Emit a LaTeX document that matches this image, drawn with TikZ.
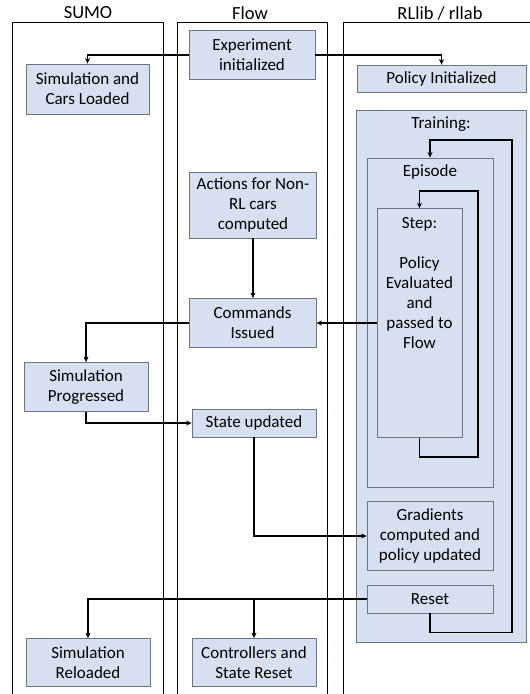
\documentclass[tikz,border=0pt]{standalone}
\usepackage{fontspec}
\setmainfont{Carlito}
\usetikzlibrary{arrows.meta}
\definecolor{boxfill}{RGB}{214,224,240}
\definecolor{boxline}{RGB}{110,116,128}
\tikzset{
  every node/.style={font=\fontsize{17}{20}\selectfont},
  box/.style={draw=boxline,fill=boxfill,line width=0.8pt,align=center,inner sep=2pt},
  lane/.style={line width=0.9pt},
  flow/.style={->,line width=1.5pt},
  txt/.style={align=center,inner sep=0pt},
  head/.style={font=\fontsize{18.5}{22}\selectfont}
}

\begin{document}
\begin{tikzpicture}[x=1pt,y=-1pt,>={Stealth[length=5.5pt,width=5pt]}]
\useasboundingbox (0,0) rectangle (530,694);
\node[head] (T0) at (88,13) {SUMO};
\node[head] (T1) at (250,13) {Flow};
\node[head] (T2) at (440,13) {RLlib / rllab};
\draw[lane] (12,694) -- (12,22) -- (163,22) -- (163,694);
\draw[lane] (177,694) -- (177,22) -- (327,22) -- (327,694);
\draw[lane] (343,694) -- (343,22) -- (530,22);
\node[box,minimum width=170,minimum height=532] (N3) at (441,376) {};
\node[box,minimum width=126,minimum height=329] (N4) at (430,322.5) {};
\node[box,minimum width=85,minimum height=229] (N5) at (419.5,323) {};
\node (N3t) at (441,124) {Training:};
\node (N4t) at (430,172) {Episode};
\node[txt] (N5t) at (419.5,283) {Step:\\[20pt]Policy\\Evaluated\\and\\passed to\\Flow};
\node[box,minimum width=126,minimum height=49] (N0) at (252,55) {Experiment\\initialized};
\node[box,minimum width=123,minimum height=50] (N1) at (87.5,89) {Simulation and\\Cars Loaded};
\node[box,minimum width=169,minimum height=27] (N2) at (441.5,78.5) {Policy Initialized};
\node[box,minimum width=127,minimum height=66] (N6) at (253,205) {Actions for Non-\\RL cars\\computed};
\node[box,minimum width=127,minimum height=49] (N7) at (252.5,323) {Commands\\Issued};
\node[box,minimum width=124,minimum height=49] (N8) at (86,387) {Simulation\\Progressed};
\node[box,minimum width=124,minimum height=28] (N9) at (254,423) {State updated};
\node[box,minimum width=126,minimum height=69] (N10) at (430,536) {Gradients\\computed and\\policy updated};
\node[box,minimum width=126,minimum height=28] (N11) at (430,599) {Reset};
\node[box,minimum width=124,minimum height=48] (N12) at (88,662.5) {Simulation\\Reloaded};
\node[box,minimum width=124,minimum height=48] (N13) at (254,662.5) {Controllers and\\State Reset};
\draw[flow] (N0.west) -| (N1.north);
\draw[flow] (N0.east) -| (N2.north);
\draw[flow] (N11.south) -- ++(0,19) -| (512,140) -| (N4.north);
\draw[flow] (N5.south) -- ++(0,19) -| (478,191) -| (N5.north);
\draw[flow] (N6.south) -- (N6.south |- N7.north);
\draw[flow] (N5.west) -- (N7.east);
\draw[flow] (N7.west) -| (N8.north);
\draw[flow] (N8.south) |- (N9.west);
\draw[flow] (N9.south) |- (N10.west);
\draw[flow] (N11.west) -| (N12.north);
\draw[flow] (N11.west) -| (N13.north);
\end{tikzpicture}
\end{document}
